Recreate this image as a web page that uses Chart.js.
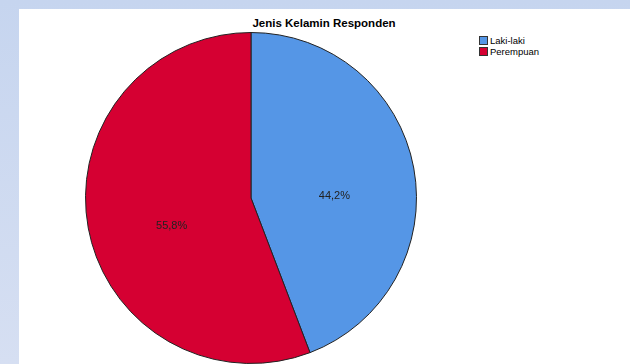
<!DOCTYPE html>
<html>
<head>
<meta charset="utf-8">
<script src="https://cdn.jsdelivr.net/npm/chart.js@4"></script>
<style>
  html, body { margin:0; padding:0; }
  body { width:630px; height:364px; overflow:hidden; position:relative;
         background: linear-gradient(to bottom, #c6d5ef 0%, #d6dff2 100%);
         font-family: "Liberation Sans", Arial, sans-serif; }
  #panel { position:absolute; left:19px; top:9px; width:611px; height:355px; background:#ffffff; }
  #c { position:absolute; left:0; top:0; }
  #title { position:absolute; left:224px; width:200px; top:17px; text-align:center;
           font-weight:bold; font-size:11.5px; color:#000; }
  .leg { position:absolute; left:479px; font-size:9.5px; color:#000; line-height:11px; white-space:nowrap; }
  .leg span.box { display:inline-block; width:7px; height:7px; border:1px solid #333; vertical-align:-1px; margin-right:2px; }
</style>
</head>
<body>
<div id="panel"></div>
<div id="title">Jenis Kelamin Responden</div>
<div class="leg" id="leg0" style="top:35px"></div>
<div class="leg" id="leg1" style="top:46px"></div>
<canvas id="c" width="630" height="364"></canvas>
<script>
const categories = ["Laki-laki", "Perempuan"];
const values = [44.2, 55.8];
const valueLabels = ["44,2%", "55,8%"];
const colors = ["#5596e6", "#d50032"];

categories.forEach((c, i) => {
  const el = document.getElementById("leg" + i);
  el.innerHTML = '<span class="box" style="background:' + colors[i] + '"></span>' + c;
});

const labelPlugin = {
  id: "sliceLabels",
  afterDatasetsDraw(chart) {
    const ctx = chart.ctx;
    const meta = chart.getDatasetMeta(0);
    ctx.save();
    ctx.font = "11px 'Liberation Sans', Arial, sans-serif";
    ctx.fillStyle = "#222";
    ctx.textAlign = "center";
    ctx.textBaseline = "middle";
    meta.data.forEach((arc, i) => {
      const p = arc.getProps(["x", "y", "startAngle", "endAngle", "outerRadius"], true);
      const mid = (p.startAngle + p.endAngle) / 2;
      const r = p.outerRadius * 0.5;
      ctx.fillText(valueLabels[i], p.x + Math.cos(mid) * r + 2, p.y + Math.sin(mid) * r + 13);
    });
    ctx.restore();
  }
};

new Chart(document.getElementById("c"), {
  type: "pie",
  data: {
    labels: categories,
    datasets: [{
      data: values,
      backgroundColor: colors,
      borderColor: "#222",
      borderWidth: 1
    }]
  },
  options: {
    responsive: false,
    animation: false,
    layout: { padding: { left: 85, right: 213, top: 32, bottom: 0 } },
    plugins: {
      legend: { display: false },
      title: { display: false },
      tooltip: { enabled: false }
    }
  },
  plugins: [labelPlugin]
});
</script>
</body>
</html>
